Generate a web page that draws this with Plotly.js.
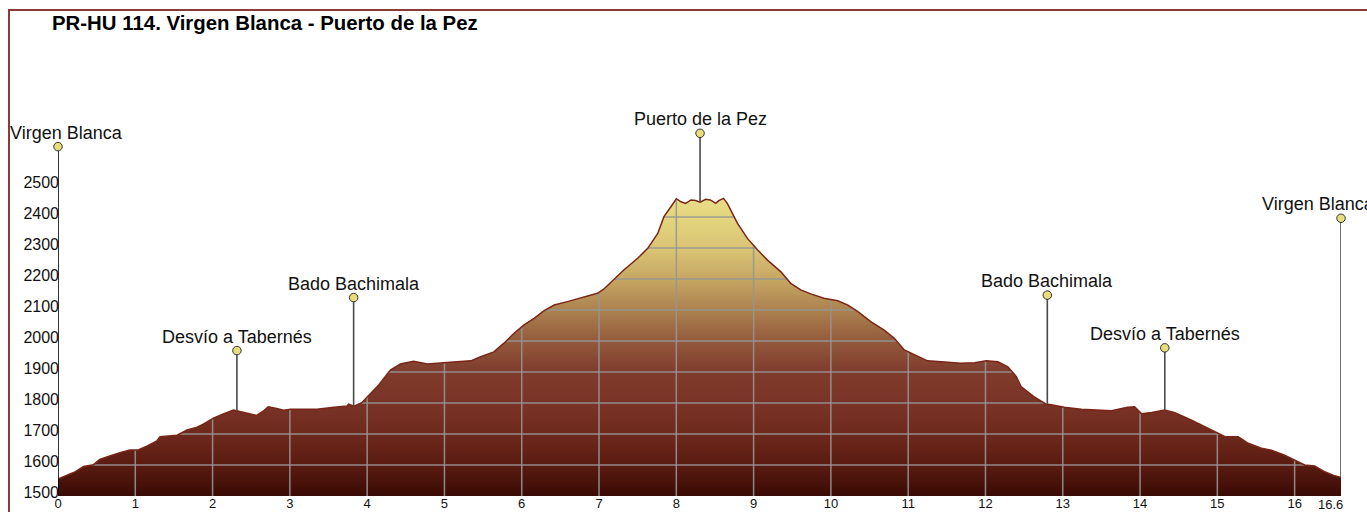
<!DOCTYPE html>
<html>
<head>
<meta charset="utf-8">
<script src="https://cdn.plot.ly/plotly-3.0.1.min.js"></script>
<style>
  html, body { margin: 0; padding: 0; background: #fff; }
  #chart { width: 1367px; height: 512px; }
</style>
</head>
<body>
<div id="chart"></div>
<script>
// ---- Data ----
const titleText = "PR-HU 114. Virgen Blanca - Puerto de la Pez";

const distKm = [0.00,0.08,0.155,0.22,0.33,0.46,0.54,0.67,0.80,0.93,1.03,1.15,1.28,1.32,1.45,1.54,1.67,1.80,1.88,2.01,2.14,2.27,2.31,2.44,2.57,2.66,2.72,2.83,2.92,3.01,3.35,3.57,3.74,3.76,3.83,3.93,4.04,4.15,4.30,4.43,4.60,4.78,4.99,5.21,5.34,5.47,5.64,5.77,5.90,6.03,6.16,6.29,6.42,6.59,6.76,6.98,7.06,7.19,7.32,7.50,7.63,7.76,7.84,7.93,8.00,8.06,8.12,8.19,8.25,8.31,8.38,8.44,8.51,8.55,8.61,8.66,8.73,8.79,8.92,9.05,9.18,9.35,9.48,9.61,9.74,9.91,10.09,10.22,10.35,10.52,10.69,10.82,10.95,11.08,11.25,11.47,11.68,11.86,12.01,12.16,12.29,12.40,12.46,12.63,12.78,12.85,13.02,13.24,13.63,13.84,13.93,14.02,14.15,14.32,14.45,14.66,14.84,15.01,15.10,15.27,15.40,15.57,15.70,15.87,16.00,16.13,16.26,16.39,16.52,16.60];
const elevM = [1555,1562,1571,1578,1595,1601,1618,1629,1640,1648,1648,1661,1678,1691,1694,1696,1713,1722,1732,1751,1765,1777,1775,1767,1760,1775,1788,1782,1777,1780,1780,1786,1790,1796,1790,1801,1831,1858,1906,1926,1935,1926,1930,1933,1936,1949,1965,1993,2025,2052,2073,2098,2116,2127,2138,2154,2167,2197,2229,2267,2299,2347,2401,2433,2459,2449,2444,2455,2453,2448,2457,2455,2444,2453,2460,2444,2412,2380,2331,2294,2261,2224,2186,2165,2152,2138,2130,2116,2095,2062,2035,2009,1971,1955,1936,1932,1928,1930,1936,1933,1917,1885,1853,1820,1797,1794,1786,1780,1775,1786,1788,1765,1769,1777,1769,1745,1724,1704,1691,1691,1670,1654,1648,1632,1616,1600,1597,1578,1565,1560];

const wpNames = ["Virgen Blanca","Desvío a Tabernés","Bado Bachimala","Puerto de la Pez","Bado Bachimala","Desvío a Tabernés","Virgen Blanca"];
const wpDist = [0, 2.315, 3.825, 8.307, 12.80, 14.32, 16.6];
const wpLabelElev = [2627, 1969, 2140, 2670, 2148, 1978, 2396];

const yTickVals = [1500,1600,1700,1800,1900,2000,2100,2200,2300,2400,2500];
const xTickVals = [0,1,2,3,4,5,6,7,8,9,10,11,12,13,14,15,16];
const xTickText = ["0","1","2","3","4","5","6","7","8","9","10","11","12","13","14","15","16"];
const xEndVal = 16.6;
const xEndText = "16.6";
const gridKm = [1,2,3,4,5,6,7,8,9,10,11,12,13,14,15,16];
const gridLevels = [1600,1700,1800,1900,2000,2100,2200,2300,2400];

// ---- Styles ----
const yRange = [1500, 2900];
const fontFam = "Liberation Sans, Arial, sans-serif";
const gridColor = "rgba(150,150,150,0.9)";
const labelXShift = [8, 0, 0, 0, 0, 0, -23];

function interp(x) {
  for (let i = 1; i < distKm.length; i++) {
    if (x <= distKm[i]) {
      const t = (x - distKm[i-1]) / (distKm[i] - distKm[i-1]);
      return elevM[i-1] + t * (elevM[i] - elevM[i-1]);
    }
  }
  return elevM[elevM.length - 1];
}

// grid segments clipped to the filled area
const gx = [], gy = [];
gridKm.forEach(k => { gx.push(k, k, null); gy.push(yRange[0], interp(k), null); });
gridLevels.forEach(L => {
  let inside = false, start = null;
  for (let i = 0; i < distKm.length; i++) {
    const above = elevM[i] > L;
    if (above && !inside) {
      start = i === 0 ? distKm[0] :
        distKm[i-1] + (L - elevM[i-1]) / (elevM[i] - elevM[i-1]) * (distKm[i] - distKm[i-1]);
      inside = true;
    } else if (!above && inside) {
      const end = distKm[i-1] + (L - elevM[i-1]) / (elevM[i] - elevM[i-1]) * (distKm[i] - distKm[i-1]);
      gx.push(start, end, null); gy.push(L, L, null);
      inside = false;
    }
  }
  if (inside) { gx.push(start, distKm[distKm.length-1], null); gy.push(L, L, null); }
});

const traces = [];
traces.push({
  x: distKm, y: elevM, type: "scatter", mode: "lines",
  fill: "tozeroy",
  line: { width: 0, color: "rgba(0,0,0,0)" },
  fillgradient: {
    type: "vertical", start: 1500, stop: 2460,
    colorscale: [
      [0.00, "#3a0b05"], [0.104, "#5a1b11"], [0.21, "#6e291d"], [0.31, "#7a3327"],
      [0.42, "#803c2d"], [0.52, "#935a3c"], [0.625, "#ac824f"], [0.73, "#c6a763"],
      [0.83, "#d9c474"], [0.94, "#e4d67f"], [1.00, "#e9dd87"]
    ]
  },
  hoverinfo: "skip", showlegend: false
});
traces.push({
  x: gx, y: gy, type: "scatter", mode: "lines",
  line: { color: gridColor, width: 1.5 }, hoverinfo: "skip", showlegend: false
});
traces.push({
  x: distKm, y: elevM, type: "scatter", mode: "lines",
  line: { color: "#7a2616", width: 1.5 }, hoverinfo: "skip", showlegend: false
});
wpDist.forEach((d, i) => {
  traces.push({
    x: [d, d], y: [wpLabelElev[i], i === 0 ? yRange[0] : interp(d)],
    type: "scatter", mode: "lines",
    line: { color: i === 0 ? "#000000" : "#4a4a4a", width: 1.6 },
    hoverinfo: "skip", showlegend: false, cliponaxis: false
  });
});
traces.push({
  x: wpDist, y: wpLabelElev, type: "scatter", mode: "markers",
  marker: { size: 8.5, color: "#e8dd7a", line: { color: "#333", width: 1 } },
  cliponaxis: false, hoverinfo: "skip", showlegend: false
});

const annotations = wpNames.map((n, i) => ({
  x: wpDist[i], y: wpLabelElev[i], xref: "x", yref: "y",
  text: n, showarrow: false, xanchor: "center", yanchor: "middle",
  xshift: labelXShift[i], yshift: 14,
  font: { family: fontFam, size: 18, color: "#111" }
}));
// end-of-route distance label, nudged left like the reference
annotations.push({
  x: xEndVal, y: 0, xref: "x", yref: "paper",
  text: xEndText, showarrow: false, xanchor: "center", yanchor: "middle",
  xshift: -11, yshift: -8,
  font: { family: fontFam, size: 13, color: "#111" }
});

const layout = {
  width: 1367, height: 512,
  margin: { l: 58, r: 26, t: 62, b: 16, pad: 0 },
  paper_bgcolor: "#ffffff", plot_bgcolor: "#ffffff",
  title: {
    text: titleText, xref: "container", yref: "container",
    x: 52/1367, xanchor: "left", y: 1 - 22.5/512, yanchor: "middle",
    font: { family: fontFam, size: 20.4, color: "#000", weight: "bold" }
  },
  xaxis: {
    range: [0, 16.6], showgrid: false, zeroline: false, showline: false,
    tickmode: "array", tickvals: xTickVals, ticktext: xTickText, ticks: "",
    ticklabelstandoff: -2,
    tickfont: { family: fontFam, size: 13, color: "#111" }, fixedrange: true
  },
  yaxis: {
    range: yRange, showgrid: false, zeroline: false, showline: false,
    tickmode: "array", tickvals: yTickVals, ticks: "",
    ticklabelstandoff: -2, ticklabelshift: -4,
    tickfont: { family: fontFam, size: 16, color: "#111" }, fixedrange: true
  },
  shapes: [{
    type: "rect", xref: "paper", yref: "paper",
    x0: (9 - 58) / 1283, x1: 2, y0: -2, y1: (496 - 10) / 434,
    line: { color: "#8b3a3a", width: 2 }, fillcolor: "rgba(0,0,0,0)", layer: "above"
  }],
  annotations: annotations,
  showlegend: false
};

Plotly.newPlot("chart", traces, layout, { displayModeBar: false, staticPlot: true });
</script>
</body>
</html>
